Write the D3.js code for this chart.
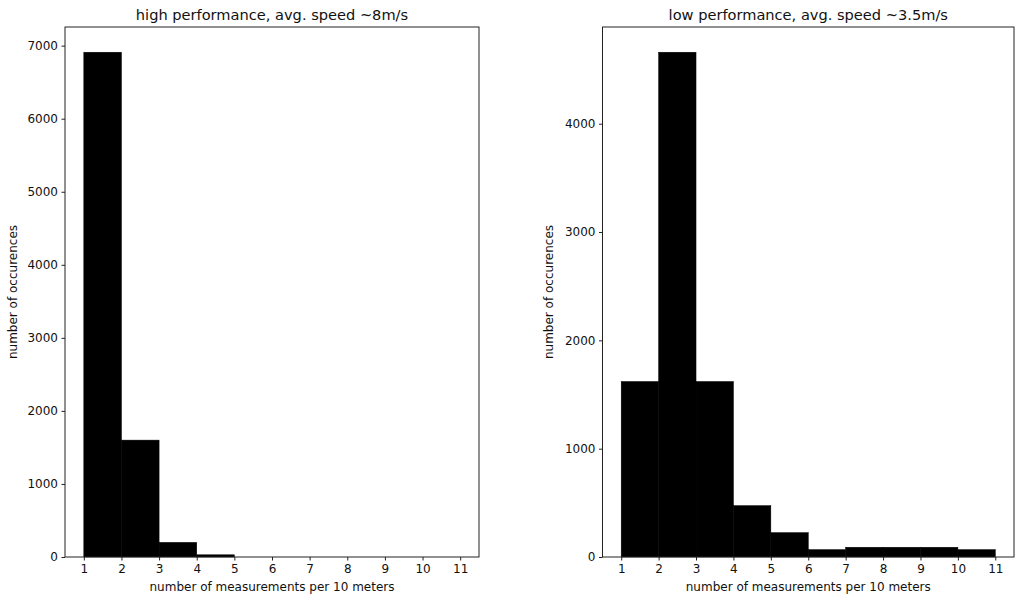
<!DOCTYPE html>
<html>
<head>
<meta charset="utf-8">
<script src="https://cdn.jsdelivr.net/npm/d3@7"></script>
<style>
  body { margin: 0; background: #fff; }
  text { font-family: "DejaVu Sans", sans-serif; fill: #111; }
</style>
</head>
<body>
<svg id="chart" width="1018" height="598"></svg>
<script>
// histogram bins: [1,2), [2,3), ... [10,11]
const binEdges = [1, 2, 3, 4, 5, 6, 7, 8, 9, 10, 11];
const xTicks = [1, 2, 3, 4, 5, 6, 7, 8, 9, 10, 11];

const highCounts = [6910, 1600, 200, 30, 0, 0, 0, 0, 0, 0];
const lowCounts = [1620, 4660, 1620, 474, 225, 68, 90, 90, 90, 68];

const highTicks = [0, 1000, 2000, 3000, 4000, 5000, 6000, 7000];
const lowTicks = [0, 1000, 2000, 3000, 4000];

const titles = ["high performance, avg. speed ~8m/s", "low performance, avg. speed ~3.5m/s"];
const xLabel = "number of measurements per 10 meters";
const yLabel = "number of occurences";

const svg = d3.select("#chart");

const panels = [
    {left: 65, right: 479, counts: highCounts, yTicks: highTicks, title: titles[0], yLabX: 17},
    {left: 602.5, right: 1014, counts: lowCounts, yTicks: lowTicks, title: titles[1], yLabX: 553}
];
const plotTop = 27, plotBottom = 557;

panels.forEach(function (p) {
    let x = d3.scaleLinear().domain([0.5, 11.5]).range([p.left, p.right]);
    let ymax = d3.max(p.counts) * 1.05;
    let y = d3.scaleLinear().domain([0, ymax]).range([plotBottom, plotTop]);

    let g = svg.append("g");

    let bins = p.counts.map(function (c, i) {
        return {x0: binEdges[i], x1: binEdges[i + 1], c: c};
    });

    g.selectAll("rect.bar")
        .data(bins)
        .enter()
        .append("rect")
        .attr("class", "bar")
        .attr("x", d => x(d.x0))
        .attr("width", d => x(d.x1) - x(d.x0))
        .attr("y", d => y(d.c))
        .attr("height", d => plotBottom - y(d.c))
        .style("fill", "#000")
        .style("stroke", "#000")
        .style("stroke-width", 0.5);

    // x axis
    let xa = g.append("g")
        .attr("transform", "translate(0," + plotBottom + ")")
        .call(d3.axisBottom(x).tickValues(xTicks).tickSize(3.5).tickPadding(3.5));
    xa.select(".domain").remove();
    xa.selectAll("text").style("font-size", "12px");
    xa.selectAll("line").style("stroke", "#222");

    // y axis
    let ya = g.append("g")
        .attr("transform", "translate(" + p.left + ",0)")
        .call(d3.axisLeft(y).tickValues(p.yTicks).tickFormat(d3.format("d")).tickSize(3.5).tickPadding(3.5));
    ya.select(".domain").remove();
    ya.selectAll("text").style("font-size", "12px");
    ya.selectAll("line").style("stroke", "#222");

    // frame
    g.append("rect")
        .attr("x", p.left)
        .attr("y", plotTop)
        .attr("width", p.right - p.left)
        .attr("height", plotBottom - plotTop)
        .style("fill", "none")
        .style("stroke", "#222")
        .style("stroke-width", 1);

    g.append("text")
        .attr("x", (p.left + p.right) / 2)
        .attr("y", 20)
        .attr("text-anchor", "middle")
        .style("font-size", "14.6px")
        .text(p.title);

    g.append("text")
        .attr("x", (p.left + p.right) / 2)
        .attr("y", 591)
        .attr("text-anchor", "middle")
        .style("font-size", "12px")
        .text(xLabel);

    g.append("text")
        .attr("transform", "translate(" + p.yLabX + "," + (plotTop + plotBottom) / 2 + ") rotate(-90)")
        .attr("text-anchor", "middle")
        .style("font-size", "12px")
        .text(yLabel);
});
</script>
</body>
</html>
